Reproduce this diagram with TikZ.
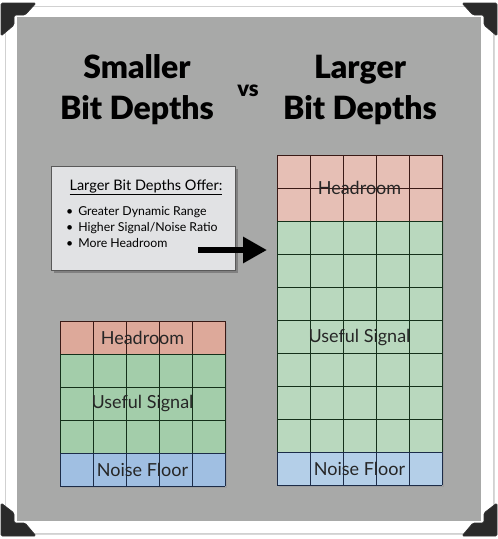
\documentclass[tikz,border=0pt]{standalone}
\usepackage{fontspec}
\setmainfont{Lato}
\newfontfamily\heavy{Lato Black}
\usetikzlibrary{arrows.meta}
\definecolor{panel}{HTML}{A8A9A8}
\definecolor{hdS}{HTML}{DDA99A}
\definecolor{grS}{HTML}{A3CDAA}
\definecolor{blS}{HTML}{A0BFE2}
\definecolor{hdL}{HTML}{E6BFB5}
\definecolor{grL}{HTML}{B9D8BE}
\definecolor{blL}{HTML}{B4CFE8}
\definecolor{hdLine}{HTML}{3A1A16}
\definecolor{grLine}{HTML}{14301A}
\definecolor{blLine}{HTML}{1C2C48}
\definecolor{boxfill}{HTML}{E1E2E4}
\definecolor{cornerdark}{HTML}{2A2A2A}
\tikzset{
  titletext/.style={font=\fontsize{32}{41}\selectfont\heavy, align=center, inner sep=0pt},
  vstext/.style={font=\fontsize{22}{24}\selectfont\heavy, inner sep=0pt},
  celltext/.style={font=\fontsize{18}{20}\selectfont, text=black!85, inner sep=0pt},
  gridshadow/.style={fill=black!45, opacity=0.35},
  photocorner/.style={fill=cornerdark, draw=black!80, line width=0.8pt, line join=round, rounded corners=1.5pt},
}
\newcommand{\gridrows}[5]{% x0, y0, rows, fill, line
  \fill[#4] (#1,#2) rectangle ++(165,#3*33);
  \foreach \r in {0,...,#3}{ \draw[#5, line width=1pt] (#1,#2+\r*33) -- ++(165,0); }
  \foreach \c in {0,...,5}{ \draw[#5, line width=1pt] (#1+\c*33,#2) -- ++(0,#3*33); }
}
\begin{document}
\begin{tikzpicture}[x=1pt,y=-1pt]
\useasboundingbox (0,0) rectangle (498,539);
% card
\fill[black!15] (7,8) rectangle (495,535);
\filldraw[fill=white, draw=black!18, line width=0.8pt] (5,6) rectangle (493,533);
\fill[panel] (17,17) rectangle (481,521);
% titles
\node[titletext] (t1) at (137,90) {Smaller\\Bit Depths};
\node[vstext] (vs) at (248,91) {vs};
\node[titletext] (t2) at (360,90) {Larger\\Bit Depths};
% info box
\fill[black!60, opacity=0.6] (54,169) rectangle (238,273);
\node[draw=black!65, fill=boxfill, line width=1.2pt, minimum width=184pt, minimum height=104pt, anchor=north west, inner sep=0pt] (box) at (51,166) {};
\node[font=\fontsize{14.5}{16}\selectfont, inner sep=0pt] (boxtitle) at (146,187) {\underline{Larger Bit Depths Offer:}};
\node[font=\fontsize{12.3}{16}\selectfont, align=left, anchor=north west, inner sep=0pt] (list) at (66,206)
  {\textbullet\hspace{5pt}Greater Dynamic Range\\
   \textbullet\hspace{5pt}Higher Signal/Noise Ratio\\
   \textbullet\hspace{5pt}More Headroom};
% shadows of grids
\fill[gridshadow] (62,323) rectangle (227,488);
\fill[gridshadow] (279,157) rectangle (444,487);
% small grid
\gridrows{60}{321}{1}{hdS}{hdLine}
\gridrows{60}{354}{3}{grS}{grLine}
\gridrows{60}{453}{1}{blS}{blLine}
% large grid
\gridrows{277}{155}{2}{hdL}{hdLine}
\gridrows{277}{221}{7}{grL}{grLine}
\gridrows{277}{452}{1}{blL}{blLine}
% grid labels
\node[celltext] (sh) at (142.5,338) {Headroom};
\node[celltext] (su) at (142.5,404) {Useful Signal};
\node[celltext] (sn) at (142.5,470) {Noise Floor};
\node[celltext] (lh) at (359.5,188) {Headroom};
\node[celltext] (lu) at (359.5,338) {Useful Signal};
\node[celltext] (ln) at (359.5,469) {Noise Floor};
\coordinate (bigleft) at (267,250);
\coordinate (arrowstart) at (198,250);
% arrow
\draw[line width=6pt, -{Triangle[length=24pt, width=25pt]}] (arrowstart) -- (bigleft);
% photo corners
\filldraw[photocorner] (1,3) -- (36,3) -- (25,15) -- (14,15) -- (14,25) -- (1,36) -- cycle;
\filldraw[photocorner] (497,3) -- (462,3) -- (473,15) -- (484,15) -- (484,25) -- (497,36) -- cycle;
\filldraw[photocorner] (1,536) -- (36,536) -- (25,523) -- (14,523) -- (14,513) -- (1,503) -- cycle;
\filldraw[photocorner] (497,536) -- (462,536) -- (473,523) -- (484,523) -- (484,513) -- (497,503) -- cycle;
\end{tikzpicture}
\end{document}
